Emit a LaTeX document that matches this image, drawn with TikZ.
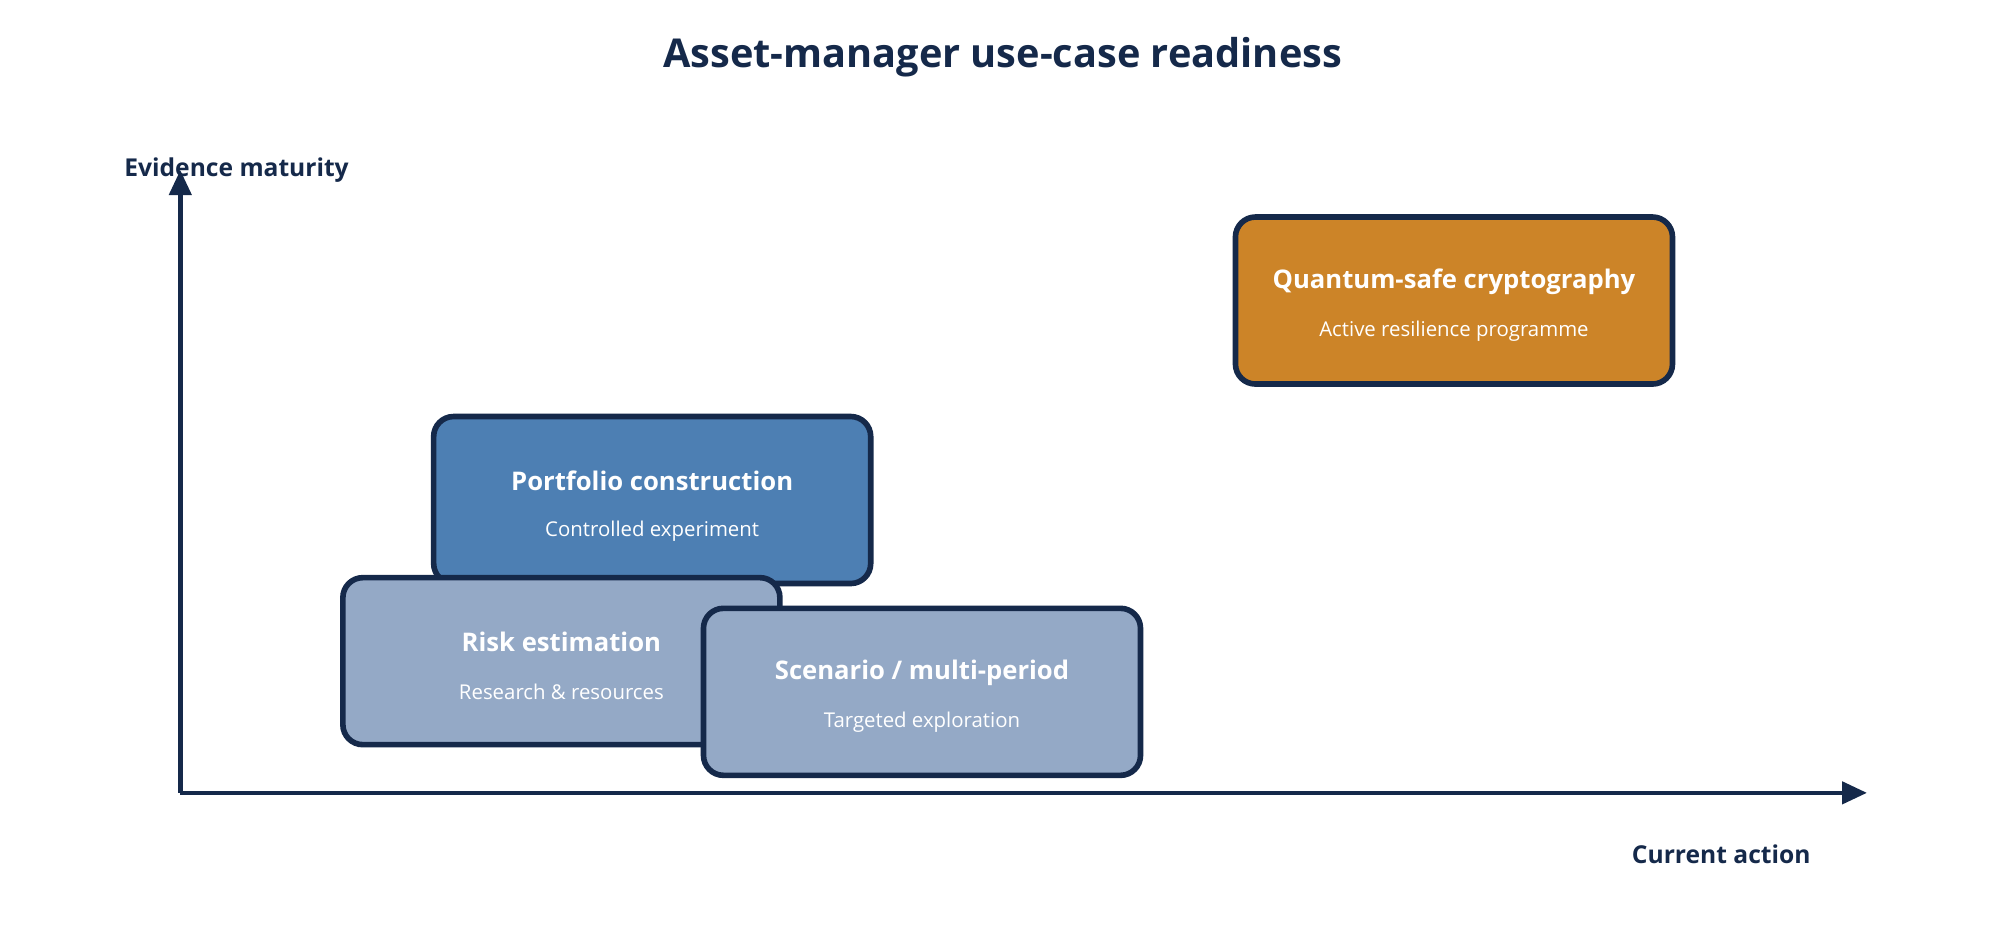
\documentclass[tikz,border=0pt]{standalone}
\usepackage{fontspec}
\setmainfont{Open Sans}
\usetikzlibrary{arrows.meta}
\definecolor{navy}{HTML}{15294A}
\definecolor{orng}{HTML}{CC8428}
\definecolor{midblue}{HTML}{4D7FB3}
\definecolor{paleblue}{HTML}{94A9C6}
\tikzset{
  card/.style={draw=navy, line width=1.6pt, rounded corners=0.2cm,
    minimum width=4.37cm, minimum height=1.67cm},
  cardtitle/.style={text=white, font=\fontsize{7.3}{9}\selectfont\bfseries},
  cardsub/.style={text=white, font=\fontsize{5.8}{7}\selectfont},
  axislabel/.style={text=navy, font=\fontsize{7}{8}\selectfont\bfseries}
}
\begin{document}
\begin{tikzpicture}[x=0.01279cm, y=-0.01279cm]
\useasboundingbox (0,0) rectangle (1564,727);
\node[text=navy, font=\fontsize{11.3}{13}\selectfont\bfseries] (title) at (784,45) {Asset-manager use-case readiness};
% axes
\coordinate (origin) at (141,620);
\coordinate (ytip) at (141,133);
\coordinate (xtip) at (1460,620);
\draw[navy, line width=1.3pt, -{Triangle[length=0.25cm,width=0.22cm]}] (origin) -- (ytip);
\draw[navy, line width=1.3pt, -{Triangle[length=0.25cm,width=0.22cm]}] (origin) -- (xtip);
\node[axislabel] (ylab) at (185,133) {Evidence maturity};
\node[axislabel] (xlab) at (1346,668) {Current action};
% cards
\node[card, fill=orng] (quantum) at (1137,235) {};
\node[cardtitle] at (1137,220) {Quantum-safe cryptography};
\node[cardsub] at (1137,259) {Active resilience programme};
\node[card, fill=midblue] (portfolio) at (510,391) {};
\node[cardtitle] at (510,376) {Portfolio construction};
\node[cardsub] at (510,415) {Controlled experiment};
\node[card, fill=paleblue] (risk) at (439,517) {};
\node[cardtitle] at (439,502) {Risk estimation};
\node[cardsub] at (439,541) {Research \& resources};
\node[card, fill=paleblue] (scenario) at (721,541) {};
\node[cardtitle] at (721,526) {Scenario / multi-period};
\node[cardsub] at (721,565) {Targeted exploration};
\end{tikzpicture}
\end{document}
